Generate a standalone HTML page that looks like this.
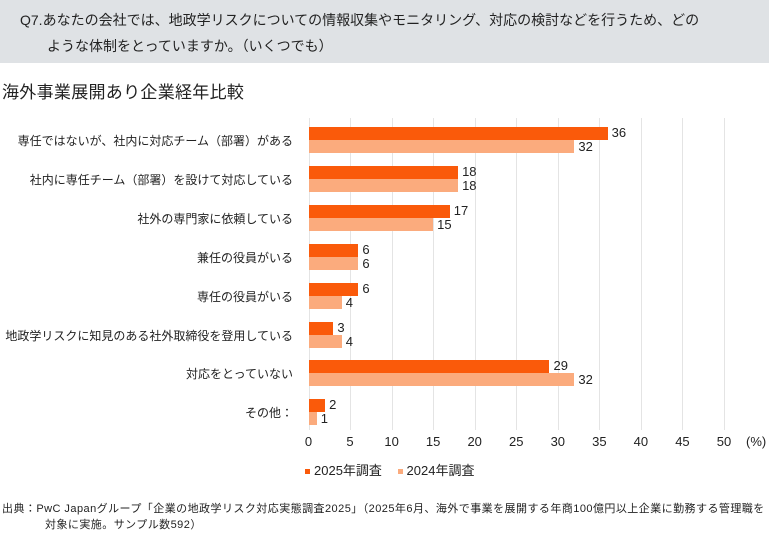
<!DOCTYPE html><html><head><meta charset="utf-8"><style>
body{margin:0;width:769px;height:540px;background:#fff;font-family:"Liberation Sans","Noto Sans CJK JP",sans-serif;color:#222;position:relative;overflow:hidden}
.hd{position:absolute;left:0;top:0;width:769px;height:63px;background:#dfe2e5}
.t{position:absolute;white-space:nowrap}
.cat{position:absolute;right:476px;font-size:12px;white-space:nowrap}
.b{position:absolute;height:13px}
.a{background:#fa5a0a}.c{background:#fbab7d}
.v{position:absolute;font-size:13px}
.g{position:absolute;top:118px;height:312px;width:1px;background:#e4e4e4}
.tk{position:absolute;top:434px;font-size:13px;width:30px;text-align:center}
</style></head><body>
<div class="hd"></div>
<div class="t" style="left:20px;top:10px;font-size:14px">Q7.あなたの会社では、地政学リスクについての情報収集やモニタリング、対応の検討などを行うため、どの</div>
<div class="t" style="left:47px;top:36px;font-size:14px">ような体制をとっていますか。（いくつでも）</div>
<div class="t" style="left:2px;top:78px;font-size:17px;letter-spacing:0.3px">海外事業展開あり企業経年比較</div>
<div id="c"></div>
<div class="t" style="left:305px;top:460px;font-size:13px"><span style="display:inline-block;width:5px;height:5px;background:#fa5a0a;vertical-align:middle;margin-right:4px"></span>2025年調査 <span style="display:inline-block;width:5px;height:5px;background:#fbab7d;vertical-align:middle;margin:0 4px 0 12px"></span>2024年調査</div>
<div class="t" style="left:2px;top:500px;font-size:11px;letter-spacing:0.45px">出典：PwC Japanグループ「企業の地政学リスク対応実態調査2025」（2025年6月、海外で事業を展開する年商100億円以上企業に勤務する管理職を</div>
<div class="t" style="left:45px;top:516px;font-size:11px;letter-spacing:0.45px">対象に実施。サンプル数592）</div>
<script>
var cats=["専任ではないが、社内に対応チーム（部署）がある","社内に専任チーム（部署）を設けて対応している","社外の専門家に依頼している","兼任の役員がいる","専任の役員がいる","地政学リスクに知見のある社外取締役を登用している","対応をとっていない","その他："];
var a=[36,18,17,6,6,3,29,2],b=[32,18,15,6,4,4,32,1];
var x0=308.5,s=8.31,h="";
for(var i=0;i<=10;i++){var x=x0+i*5*s;h+='<div class="g" style="left:'+x+'px"></div><div class="tk" style="left:'+(x-15)+'px">'+i*5+'</div>';}
h+='<div class="t" style="left:746px;top:434px;font-size:13px">(%)</div>';
for(var i=0;i<8;i++){var y=127+i*38.9;
h+='<div class="cat" style="top:'+(y+5)+'px">'+cats[i]+'</div>';
h+='<div class="b a" style="left:'+x0+'px;top:'+y+'px;width:'+a[i]*s+'px"></div>';
h+='<div class="b c" style="left:'+x0+'px;top:'+(y+13)+'px;width:'+b[i]*s+'px"></div>';
h+='<div class="v" style="left:'+(x0+a[i]*s+4)+'px;top:'+(y-2)+'px">'+a[i]+'</div>';
h+='<div class="v" style="left:'+(x0+b[i]*s+4)+'px;top:'+(y+12)+'px">'+b[i]+'</div>';}
document.getElementById("c").innerHTML=h;
</script>
</body></html>
